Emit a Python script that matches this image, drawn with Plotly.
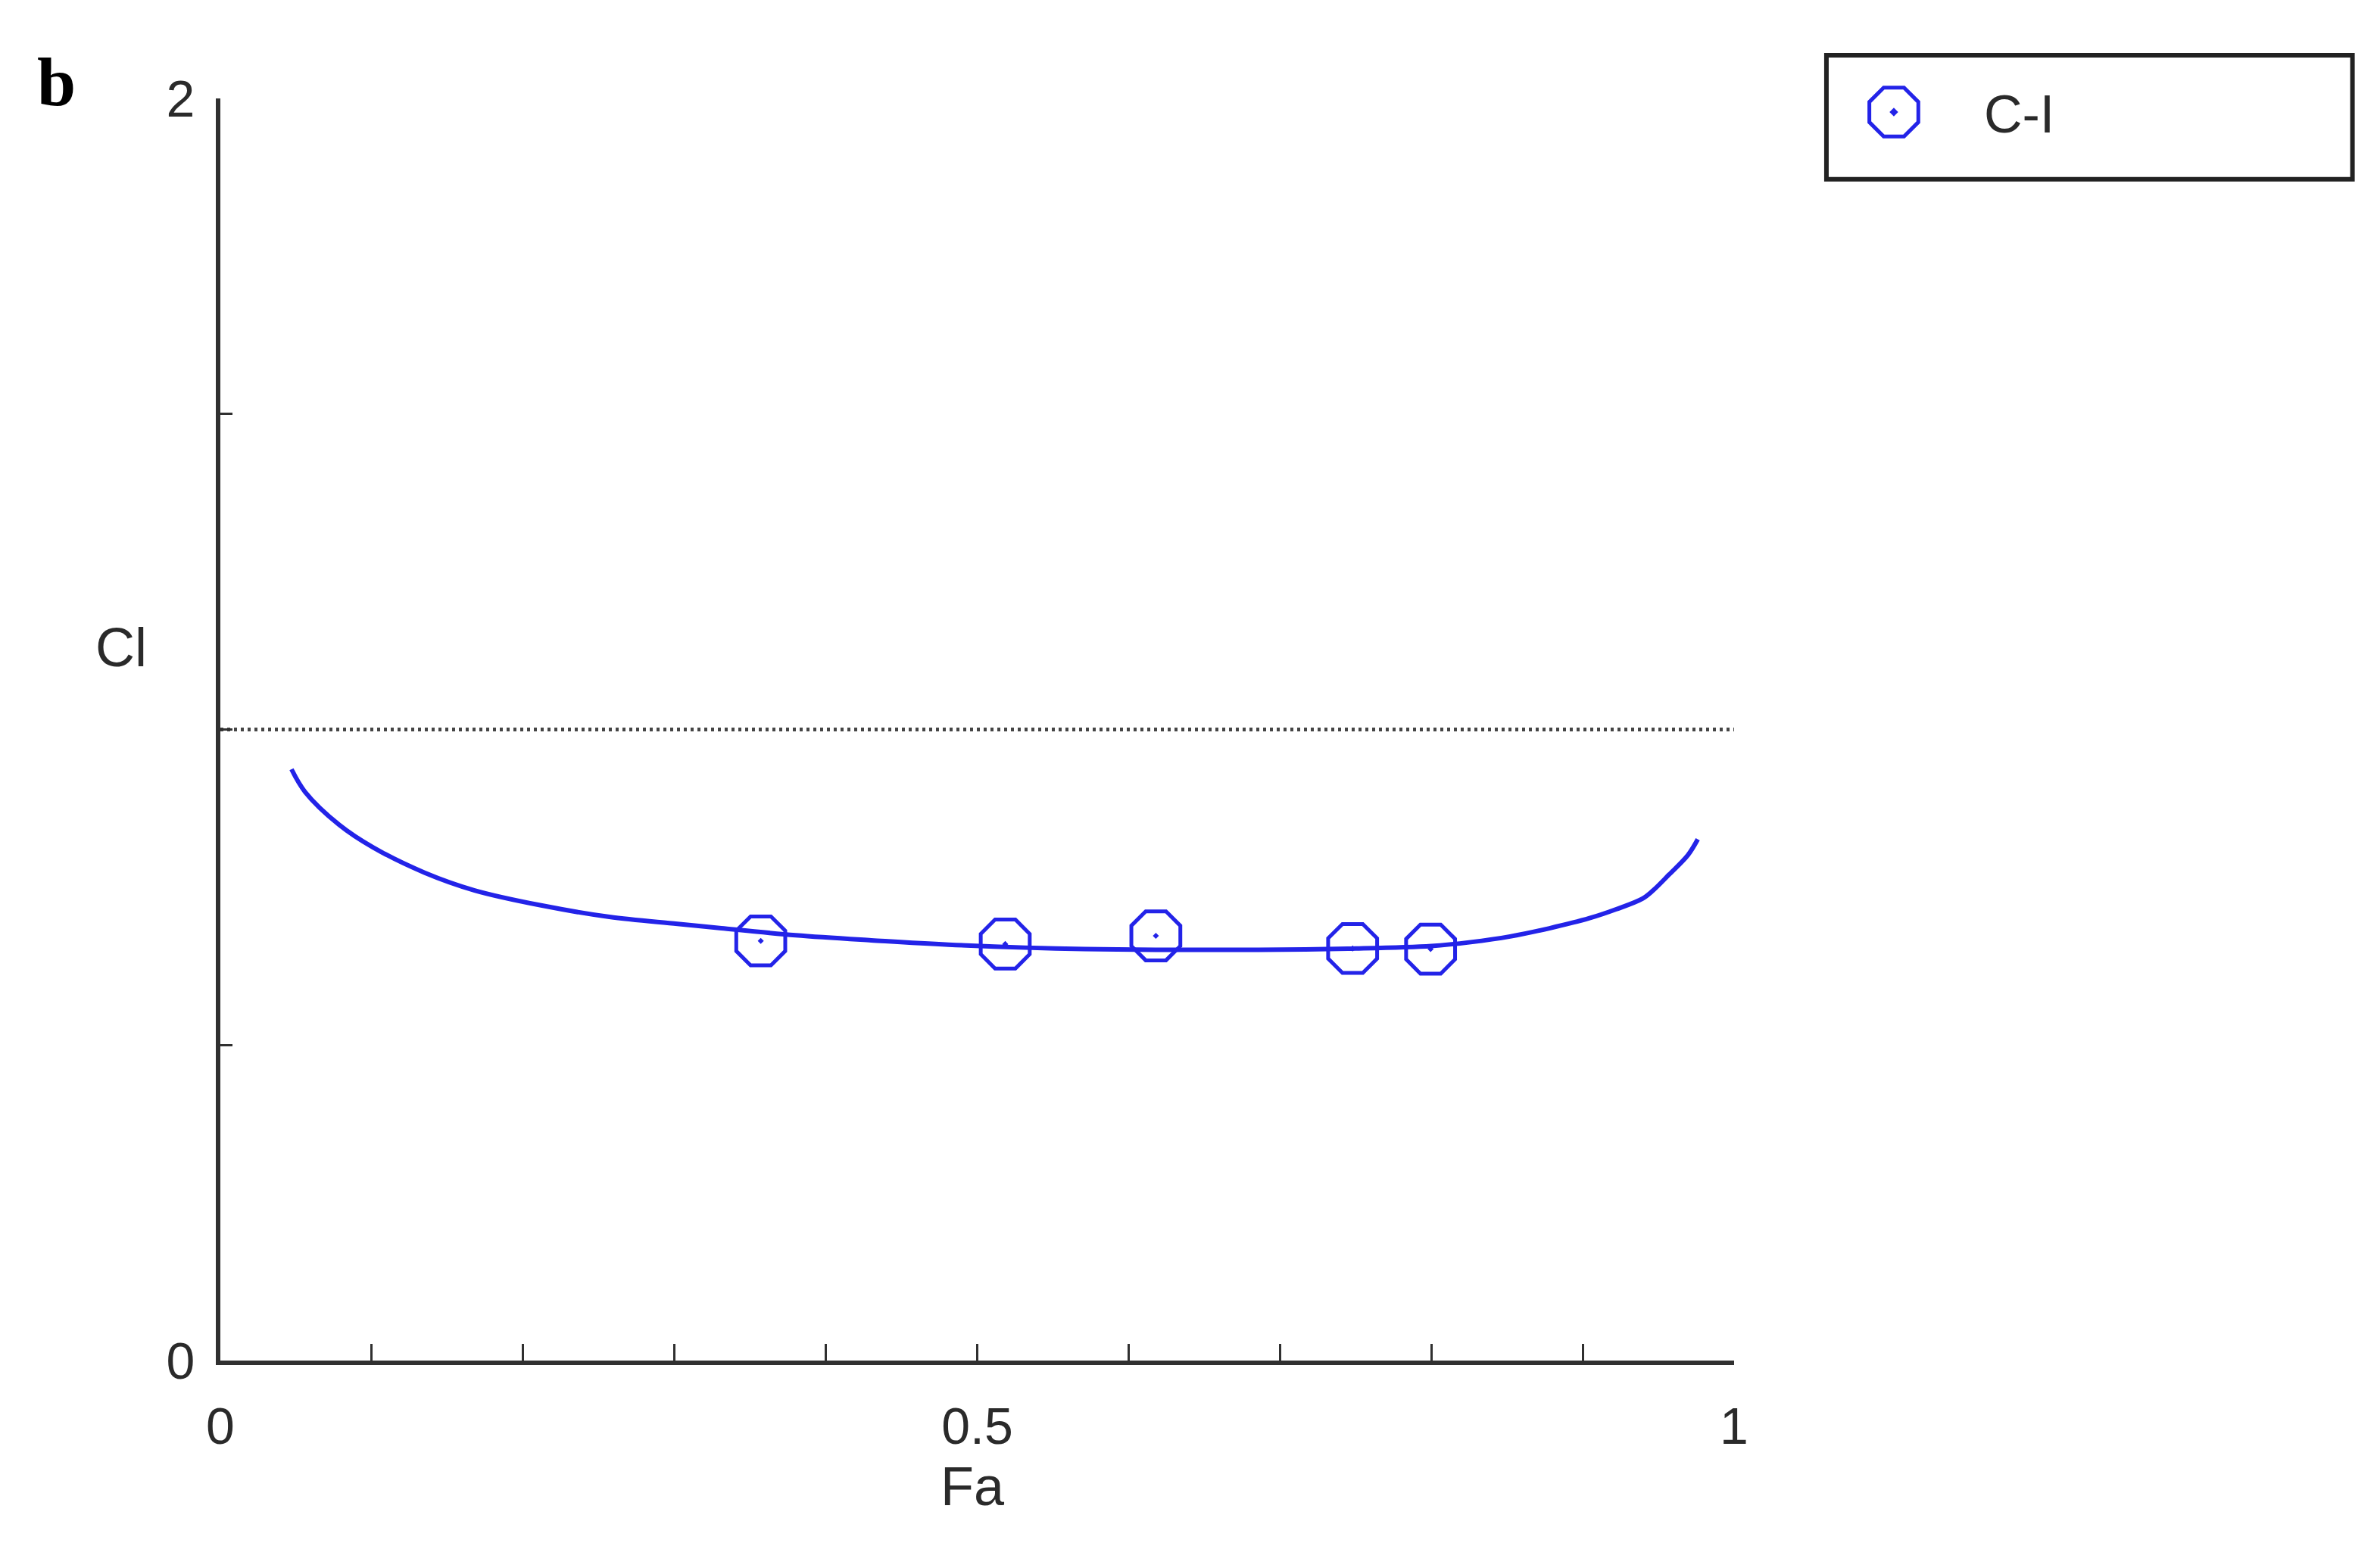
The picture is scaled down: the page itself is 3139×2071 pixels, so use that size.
import plotly.graph_objects as go

fa_curve = [0.047, 0.056, 0.0785, 0.101, 0.135, 0.168, 0.2125, 0.257, 0.302, 0.331,
            0.38, 0.43, 0.481, 0.571, 0.686, 0.75, 0.80, 0.826, 0.852, 0.878,
            0.9045, 0.922, 0.9395, 0.9465, 0.957, 0.9695, 0.976]
ci_curve = [0.937, 0.901, 0.849, 0.813, 0.773, 0.745, 0.721, 0.703, 0.692, 0.685,
            0.674, 0.666, 0.659, 0.652, 0.651, 0.653, 0.657, 0.663, 0.672, 0.685,
            0.701, 0.715, 0.732, 0.745, 0.770, 0.801, 0.826]

# measured points
fa_pts = [0.357, 0.5185, 0.618, 0.748, 0.7995]
ci_pts = [0.665, 0.660, 0.673, 0.653, 0.652]

ref_x = [0, 1]
ref_y = [1, 1]

x_ticks = [0, 0.1, 0.2, 0.3, 0.4, 0.5, 0.6, 0.7, 0.8, 0.9, 1]
x_labels = ['0', '', '', '', '', '0.5', '', '', '', '', '1']
y_ticks = [0, 0.5, 1, 1.5, 2]
y_labels = ['0', '', '', '', '2']

blue = 'rgb(35,35,232)'
ink = '#2a2a2a'
fnt = 'Liberation Sans, Arial, sans-serif'
msize = 70

fig = go.Figure()
fig.add_trace(go.Scatter(x=ref_x, y=ref_y, mode='lines', showlegend=False,
                         line=dict(color='#454545', width=5, dash='4px,5px')))
fig.add_trace(go.Scatter(x=fa_curve, y=ci_curve, mode='lines', showlegend=False,
                         line=dict(color=blue, width=6, shape='spline', smoothing=1)))
fig.add_trace(go.Scatter(x=fa_pts, y=ci_pts, mode='markers', name='C-I',
                         marker=dict(symbol='octagon-open-dot', size=msize, color=blue,
                                     line=dict(color=blue, width=5))))

fig.update_xaxes(range=[0, 1], tickvals=x_ticks, ticktext=x_labels,
                 showline=True, linewidth=6, linecolor='#303030', mirror=False,
                 ticks='inside', ticklen=22, tickwidth=3, tickcolor='#303030',
                 showgrid=False, zeroline=False, ticklabelstandoff=22,
                 tickfont=dict(family=fnt, size=68, color=ink))
fig.update_yaxes(range=[0, 2], tickvals=y_ticks, ticktext=y_labels,
                 showline=True, linewidth=6, linecolor='#303030', mirror=False,
                 ticks='inside', ticklen=16, tickwidth=3, tickcolor='#303030',
                 showgrid=False, zeroline=False, ticklabelstandoff=14,
                 tickfont=dict(family=fnt, size=68, color=ink))

fig.add_annotation(text='Cl', xref='paper', yref='paper', x=-0.0655, y=0.5653,
                   xanchor='center', yanchor='middle',
                   showarrow=False, font=dict(family=fnt, size=72, color=ink))
fig.add_annotation(text='Fa', xref='paper', yref='paper', x=0.497, y=-0.0995,
                   xanchor='center', yanchor='middle',
                   showarrow=False, font=dict(family=fnt, size=72, color=ink))
fig.add_annotation(text='<b>b</b>', xref='paper', yref='paper', x=-0.1085, y=1.013,
                   xanchor='center', yanchor='middle',
                   showarrow=False, font=dict(family='Liberation Serif, Times New Roman, serif',
                                              size=92, color='black'))

# legend frame
fig.add_shape(type='rect', xref='paper', yref='paper', x0=1.061, x1=1.4085, y0=0.9359, y1=1.0342,
              line=dict(color='#222222', width=6), fillcolor='rgba(0,0,0,0)')

fig.update_layout(
    width=3139, height=2071,
    margin=dict(l=291, r=849, t=130, b=274),
    paper_bgcolor='white', plot_bgcolor='white',
    showlegend=True,
    legend=dict(x=1.046, y=0.9892, xanchor='left', yanchor='middle',
                bgcolor='rgba(0,0,0,0)', borderwidth=0, itemwidth=228,
                font=dict(family=fnt, size=70, color=ink)),
)

# drop the page margin, and enlarge the legend octagon (plotly caps legend glyphs at 16px)
post = """
document.body.style.margin = '0';
var k = %f;
document.querySelectorAll('.legend .legendpoints path').forEach(function(p){
  var t = p.getAttribute('transform') || '';
  p.setAttribute('transform', t + ' scale(' + k + ')');
  p.style.strokeWidth = (5 / k) + 'px';
});
""" % (msize / 16.0)
fig.write_html("out.html", post_script=post, config={'displayModeBar': False})
